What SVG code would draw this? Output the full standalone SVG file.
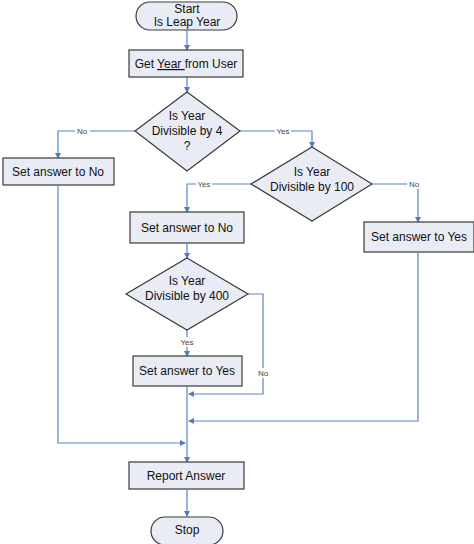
<svg xmlns="http://www.w3.org/2000/svg" width="474" height="544" viewBox="0 0 474 544">
<defs>
<marker id="arr" markerWidth="6" markerHeight="6" refX="5" refY="3" orient="auto" markerUnits="userSpaceOnUse">
<path d="M0,0 L6,3 L0,6 z" fill="#4f7cc2"/>
</marker>
<style>
.shape{fill:#e9ecf5;stroke:#3a3a3a;stroke-width:1.2}
.t{font-family:"Liberation Sans",Arial,sans-serif;font-size:12px;fill:#111;text-anchor:middle}
.lbl{font-family:"Liberation Sans",Arial,sans-serif;font-size:8px;fill:#444;text-anchor:middle}
.c{fill:none;stroke:#5b84c8;stroke-width:1.2}
.lb{fill:#fff}
</style>
</defs>
<rect width="474" height="544" fill="#fff"/>
<g id="connectors">
<path class="c" d="M187,30 V50" marker-end="url(#arr)"/>
<path class="c" d="M187,77 V92" marker-end="url(#arr)"/>
<path class="c" d="M135,131 H58 V158" marker-end="url(#arr)"/>
<path class="c" d="M240,131 H312 V147" marker-end="url(#arr)"/>
<path class="c" d="M251,184 H187 V212" marker-end="url(#arr)"/>
<path class="c" d="M372,184 H418 V222" marker-end="url(#arr)"/>
<path class="c" d="M187,244 V258" marker-end="url(#arr)"/>
<path class="c" d="M187,330 V356" marker-end="url(#arr)"/>
<path class="c" d="M248,294 H263 V394 H189" marker-end="url(#arr)"/>
<path class="c" d="M418,253 V421 H189" marker-end="url(#arr)"/>
<path class="c" d="M58,186 V443 H185" marker-end="url(#arr)"/>
<path class="c" d="M187,387 V462" marker-end="url(#arr)"/>
<path class="c" d="M187,490 V516" marker-end="url(#arr)"/>
<rect class="lb" x="75" y="126" width="15" height="10"/>
<text class="lbl" x="82" y="134">No</text>
<rect class="lb" x="275" y="126" width="16" height="10"/>
<text class="lbl" x="283" y="134">Yes</text>
<rect class="lb" x="196" y="179" width="16" height="10"/>
<text class="lbl" x="204" y="187">Yes</text>
<rect class="lb" x="407" y="179" width="15" height="10"/>
<text class="lbl" x="414" y="187">No</text>
<rect class="lb" x="179" y="337" width="16" height="10"/>
<text class="lbl" x="187" y="345">Yes</text>
<rect class="lb" x="256" y="368" width="15" height="10"/>
<text class="lbl" x="263" y="376">No</text>
</g>
<g id="start">
<rect class="shape" x="136" y="2" width="101" height="28" rx="14"/>
<text class="t" x="187" y="13">Start</text>
<text class="t" x="187" y="26">Is Leap Year</text>
</g>
<g id="get-year">
<rect class="shape" x="129" y="50" width="114" height="27"/>
<text class="t" x="186" y="68">Get <tspan text-decoration="underline">Year </tspan>from User</text>
</g>
<g id="div4">
<polygon class="shape" points="187,92 240,131 187,171 135,131"/>
<text class="t" x="187" y="120">Is Year</text>
<text class="t" x="187" y="135">Divisible by 4</text>
<text class="t" x="187" y="150">?</text>
</g>
<g id="no1">
<rect class="shape" x="3" y="158" width="111" height="27"/>
<text class="t" x="58" y="176">Set answer to No</text>
</g>
<g id="div100">
<polygon class="shape" points="312,147 372,184 312,221 251,184"/>
<text class="t" x="312" y="176">Is Year</text>
<text class="t" x="312" y="191">Divisible by 100</text>
</g>
<g id="no2">
<rect class="shape" x="130" y="212" width="114" height="31"/>
<text class="t" x="187" y="232">Set answer to No</text>
</g>
<g id="yes1">
<rect class="shape" x="364" y="222" width="110" height="30"/>
<text class="t" x="419" y="241">Set answer to Yes</text>
</g>
<g id="div400">
<polygon class="shape" points="187,258 248,294 187,330 126,294"/>
<text class="t" x="187" y="285">Is Year</text>
<text class="t" x="187" y="300">Divisible by 400</text>
</g>
<g id="yes2">
<rect class="shape" x="133" y="356" width="109" height="30"/>
<text class="t" x="187" y="375">Set answer to Yes</text>
</g>
<g id="report">
<rect class="shape" x="129" y="462" width="115" height="27"/>
<text class="t" x="186" y="480">Report Answer</text>
</g>
<g id="stop">
<rect class="shape" x="151" y="517" width="72" height="28" rx="14"/>
<text class="t" x="187" y="534">Stop</text>
</g>
</svg>
